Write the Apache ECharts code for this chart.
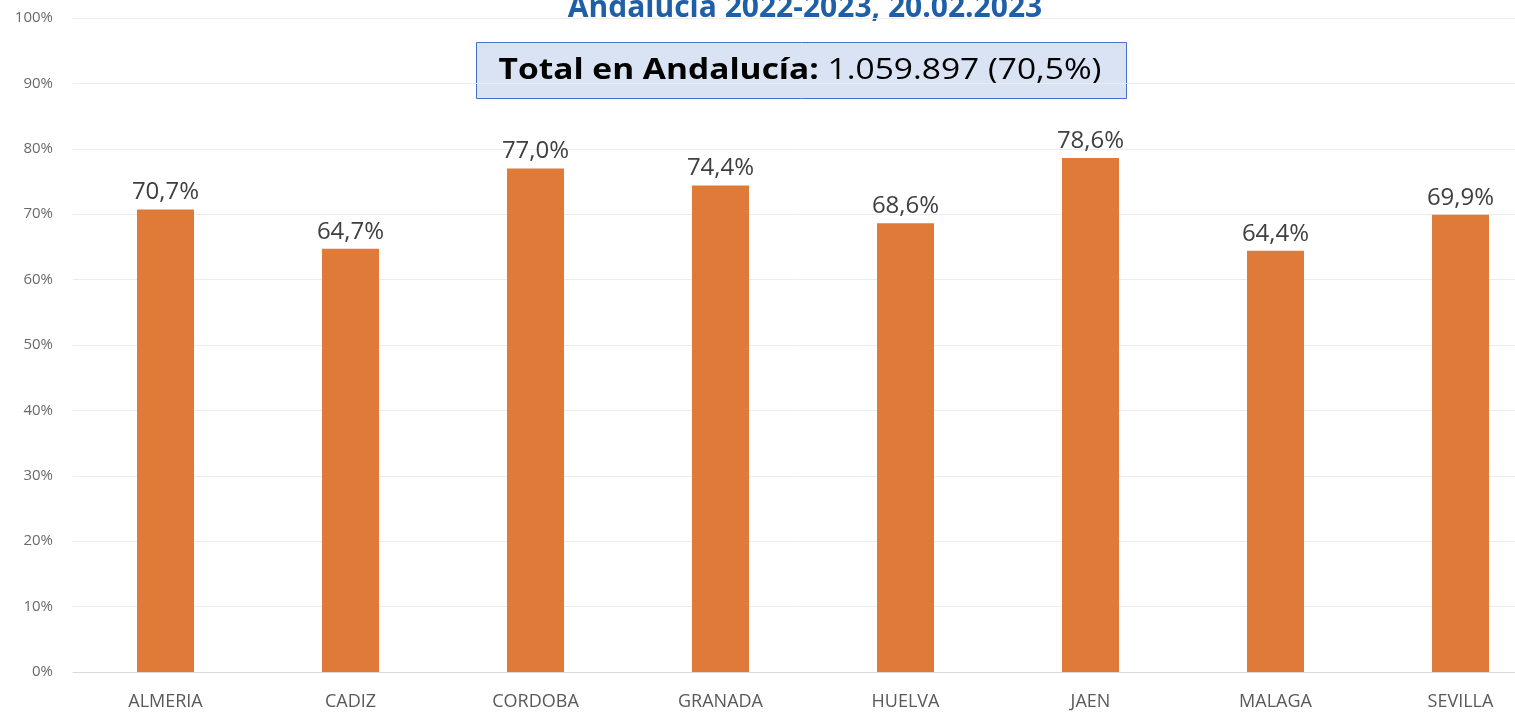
<!DOCTYPE html>
<html><head><meta charset="utf-8">
<script src="https://cdn.jsdelivr.net/npm/echarts@6/dist/echarts.min.js"></script>
<style>html,body{margin:0;padding:0;background:#fff}#c{width:1515px;height:715px}</style>
</head><body><div id="c"></div>
<script>
const categories = ['ALMERIA','CADIZ','CORDOBA','GRANADA','HUELVA','JAEN','MALAGA','SEVILLA'];
const values = [70.7, 64.7, 77.0, 74.4, 68.6, 78.6, 64.4, 69.9];
const titleText = 'Andalucía 2022-2023, 20.02.2023';
const boxBold = 'Total en Andalucía:';
const boxNormal = ' 1.059.897 (70,5%)';

const chart = echarts.init(document.getElementById('c'));
chart.setOption({
  animation: false,
  backgroundColor: '#ffffff',
  grid: { left: 73, top: 18, width: 1480, height: 654, outerBoundsMode: 'none', containLabel: false },
  xAxis: {
    type: 'category', data: categories,
    axisLine: { lineStyle: { color: '#d9d9d9' } },
    axisTick: { show: false },
    axisLabel: { color: '#595959', fontSize: 18, margin: 21, fontFamily: 'Open Sans' }
  },
  yAxis: {
    type: 'value', min: 0, max: 100, interval: 10,
    axisLabel: { formatter: '{value}%', color: '#6a6a6a', fontSize: 15, align: 'right', margin: 20, fontFamily: 'Open Sans' },
    splitLine: { lineStyle: { color: '#ececec', width: 1 } },
    axisLine: { show: false }, axisTick: { show: false }
  },
  series: [{
    type: 'bar', data: values, barWidth: 57,
    itemStyle: { color: '#E07A38' },
    label: {
      show: true, position: 'top', distance: 5,
      color: '#404040', fontSize: 24, fontFamily: 'Open Sans',
      formatter: p => p.value.toFixed(1).replace('.', ',') + '%'
    }
  }],
  graphic: [
    { type: 'text', x: 805, y: -7, style: { text: titleText, fill: '#1F5FA8', font: 'bold 30px "Open Sans"', align: 'center', verticalAlign: 'top' } },
    { type: 'rect', shape: { x: 476.5, y: 42.5, width: 650, height: 56 }, style: { fill: '#DAE3F3', stroke: '#4472C4', lineWidth: 1 } },
    { type: 'text', x: 800, y: 71, scaleX: 1.155, style: {
        text: '{b|' + boxBold + '}{n|' + boxNormal + '}',
        align: 'center', verticalAlign: 'middle',
        rich: {
          b: { font: 'bold 29px "Open Sans"', fill: '#000' },
          n: { font: '29px "Open Sans"', fill: '#000' }
        }
    } }
  ]
});
</script></body></html>
